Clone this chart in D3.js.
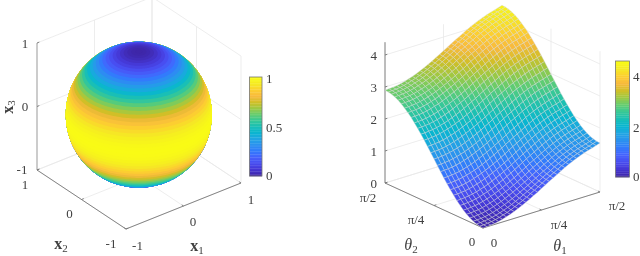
<!DOCTYPE html>
<html>
<head>
<meta charset="utf-8">
<script src="https://cdn.jsdelivr.net/npm/d3@7"></script>
<style>
  html, body { margin: 0; padding: 0; background: #fff; }
  svg { display: block; filter: blur(0.3px); }
  text { font-family: "Liberation Serif", serif; fill: #404040; font-size: 13px; }
</style>
</head>
<body>
<div id="chart"></div>
<script>
// parula colour stops
var parulaStops = ["#3e26a8","#4537d5","#484df0","#4563fd","#327bfc","#2b91ef","#20a5e3","#08b5d0",
                   "#19bfb6","#37c897","#64cd6f","#9dc943","#d1bf27","#f8ba3d","#fccf30","#f5e924","#f9fb15"];

// sphere: colour value per band, from the top pole down, bands of 3 degrees
var sphereBands = [0,.003,.011,.024,.043,.067,.095,.129,.165,.206,.25,.297,.345,.396,.448,.5,
                   .552,.604,.655,.703,.75,.794,.835,.871,.905,.933,.957,.976,.989,.997,1,
                   .997,.989,.976,.957,.933,.905,.871,.835,.794,.75,.703,.655,.604,.552,.5,
                   .448,.396,.345,.297,.25,.206,.165,.129,.095,.067,.043,.024,.011,.003];
var sphereTicks = [-1, 0, 1];
var sphereBarTicks = [0, 0.5, 1];

// surface: height along each theta
var heightTheta1 = [0,.004,.015,.03,.055,.085,.125,.165,.215,.27,.33,.39,.455,.525,.595,.67,
                    .745,.82,.89,.96,1.03,1.1,1.165,1.225,1.28,1.33,1.375,1.415,1.45,1.49,1.53];
var heightTheta2 = [0,.009,.032,.07,.125,.195,.275,.375,.48,.6,.725,.86,1,1.15,1.3,1.45,
                    1.6,1.75,1.9,2.04,2.175,2.3,2.42,2.525,2.62,2.705,2.775,2.83,2.87,2.89,2.9];
var surfaceHeightTicks = [0, 1, 2, 3, 4];
var surfaceBarTicks = [0, 2, 4];
var thetaTicks = [0, 0.5, 1];
var thetaLabels = ["0", "π/4", "π/2"];

var width = 640, height = 256;

var svg = d3.select("#chart").append("svg")
    .attr("width", width)
    .attr("height", height);

var parula = d3.scaleLinear()
    .domain(parulaStops.map(function(d, i) { return i / (parulaStops.length - 1); }))
    .range(parulaStops);

// a 3D box drawn with one linear scale per axis and screen direction
function makeBox(front, right, left, up, xDomain, yDomain, zDomain) {
    var xx = d3.scaleLinear().domain(xDomain).range([0, right[0] - front[0]]);
    var xy = d3.scaleLinear().domain(xDomain).range([0, right[1] - front[1]]);
    var yx = d3.scaleLinear().domain(yDomain).range([0, left[0] - front[0]]);
    var yy = d3.scaleLinear().domain(yDomain).range([0, left[1] - front[1]]);
    var zy = d3.scaleLinear().domain(zDomain).range([0, -up]);
    return function(a, b, c) {
        return [front[0] + xx(a) + yx(b), front[1] + xy(a) + yy(b) + zy(c)];
    };
}

function seg(g, p, q, color, w) {
    g.append("line")
        .attr("x1", p[0]).attr("y1", p[1])
        .attr("x2", q[0]).attr("y2", q[1])
        .attr("stroke", color)
        .attr("stroke-width", w);
}

// back walls, floor grid, axis lines and ticks
function drawBox(g, P, xd, yd, zd, xTicks, yTicks, zTicks, zAxisColor) {
    var grid = "#e8e8e8";
    xTicks.forEach(function(t) {
        seg(g, P(t, yd[1], zd[0]), P(t, yd[1], zd[1]), grid, 0.8);
        seg(g, P(t, yd[0], zd[0]), P(t, yd[1], zd[0]), grid, 0.8);
    });
    yTicks.forEach(function(t) {
        seg(g, P(xd[1], t, zd[0]), P(xd[1], t, zd[1]), grid, 0.8);
        seg(g, P(xd[0], t, zd[0]), P(xd[1], t, zd[0]), grid, 0.8);
    });
    zTicks.forEach(function(t) {
        seg(g, P(xd[0], yd[1], t), P(xd[1], yd[1], t), grid, 0.8);
        seg(g, P(xd[1], yd[1], t), P(xd[1], yd[0], t), grid, 0.8);
    });
    var axis = "#777";
    seg(g, P(xd[0], yd[1], zd[0]), P(xd[0], yd[0], zd[0]), axis, 0.9);
    seg(g, P(xd[0], yd[0], zd[0]), P(xd[1], yd[0], zd[0]), axis, 0.9);
    seg(g, P(xd[0], yd[1], zd[0]), P(xd[0], yd[1], zd[1]), zAxisColor, 0.9);
    var xTick = (xd[1] - xd[0]) * 0.02, yTick = (yd[1] - yd[0]) * 0.02;
    xTicks.forEach(function(t) { seg(g, P(t, yd[0], zd[0]), P(t, yd[0] + yTick, zd[0]), axis, 0.9); });
    yTicks.forEach(function(t) { seg(g, P(xd[0], t, zd[0]), P(xd[0] + xTick, t, zd[0]), axis, 0.9); });
    zTicks.forEach(function(t) { seg(g, P(xd[0], yd[1], t), P(xd[0] + xTick, yd[1], t), axis, 0.9); });
}

function label(x, y, str, anchor) {
    return svg.append("text")
        .attr("x", x).attr("y", y)
        .attr("text-anchor", anchor || "middle")
        .attr("dominant-baseline", "central")
        .text(str);
}

function vectorLabel(x, y, sub, rotate) {
    var t = svg.append("text")
        .attr("text-anchor", "middle")
        .attr("transform", "translate(" + x + "," + y + ")" + (rotate ? " rotate(-90)" : ""));
    t.append("tspan").style("font-weight", "bold").style("font-size", "16px").text("x");
    t.append("tspan").attr("dy", 2.5).style("font-size", "11px").text(sub);
}

function thetaLabel(x, y, sub) {
    var t = svg.append("text")
        .attr("x", x).attr("y", y)
        .attr("text-anchor", "middle");
    t.append("tspan").style("font-style", "italic").style("font-size", "16px").text("θ");
    t.append("tspan").attr("dy", 2.5).style("font-size", "11px").text(sub);
}

function colorbar(x, w, top, bottom, domain, ticks, labelX) {
    var y = d3.scaleLinear().domain(domain).range([bottom, top]);
    var steps = d3.range(64);
    svg.append("g").selectAll("rect")
        .data(steps)
        .enter()
        .append("rect")
        .attr("x", x)
        .attr("width", w)
        .attr("y", function(d) { return y(domain[1] * (d + 1) / 64); })
        .attr("height", (bottom - top) / 64 + 0.3)
        .attr("fill", function(d) { return parula(d / 63); });
    svg.append("rect")
        .attr("x", x).attr("y", top)
        .attr("width", w).attr("height", bottom - top)
        .attr("fill", "none")
        .attr("stroke", "#777")
        .attr("stroke-width", 0.8);
    ticks.forEach(function(t) {
        label(labelX, y(t) + (t === 0 ? -0.5 : 1), String(t), "start");
    });
}

// ---------- LEFT: SPHERE ----------
var sphereBox = makeBox([126, 229], [241, 183], [37, 170], 127, [-1, 1], [-1, 1], [-1, 1]);
var gLeft = svg.append("g");
drawBox(gLeft, sphereBox, [-1, 1], [-1, 1], [-1, 1], sphereTicks, sphereTicks, sphereTicks, "#999");

var projection = d3.geoOrthographic()
    .scale(73)
    .translate([138.8, 114.7])
    .rotate([0, -30, 0])
    .precision(0.5);
var geoPath = d3.geoPath(projection);
var bandWidth = 180 / sphereBands.length;

// painter order: whole sphere first, then smaller and smaller caps round the top pole
gLeft.append("path")
    .datum({ type: "Sphere" })
    .attr("d", geoPath)
    .attr("fill", parula(sphereBands[sphereBands.length - 1]));
for (var i = sphereBands.length - 2; i >= 0; i--) {
    gLeft.append("path")
        .datum(d3.geoCircle().center([0, 90]).radius(bandWidth * (i + 1)).precision(2)())
        .attr("d", geoPath)
        .attr("fill", parula(sphereBands[i]));
}

label(25, 43, "1");
label(25, 106.5, "0");
label(22, 169.5, "-1");
label(25, 184, "1");
label(69.5, 213, "0");
label(111, 243, "-1");
label(137.5, 245, "-1");
label(193, 221, "0");
label(251, 199, "1");
vectorLabel(12.5, 107, "3", true);
vectorLabel(61, 249, "2");
vectorLabel(197, 251, "1");
colorbar(249.5, 12.5, 77, 176, [0, 1], sphereBarTicks, 266);

// ---------- RIGHT: SURFACE ----------
var zTop = 4.4;
var surfaceBox = makeBox([483, 228], [600, 192], [385, 183], 32 * zTop, [0, 1], [0, 1], [0, zTop]);
var gRight = svg.append("g");
drawBox(gRight, surfaceBox, [0, 1], [0, 1], [0, zTop], thetaTicks, thetaTicks, surfaceHeightTicks, "#777");

var n = heightTheta1.length - 1;
var grid = [];
heightTheta1.forEach(function(a, i) {
    heightTheta2.forEach(function(b, j) {
        grid.push({ i: i, j: j, z: a + b });
    });
});
function zAt(i, j) { return heightTheta1[i] + heightTheta2[j]; }

var surfaceColor = d3.scaleLinear().domain([0, 4.55]).range([0, 1]);
var cells = grid.filter(function(d) { return d.i < n && d.j < n; });
// back to front
cells.sort(function(a, b) { return (b.i + b.j) - (a.i + a.j); });

var cellLine = d3.line();
gRight.selectAll("path.cell")
    .data(cells)
    .enter()
    .append("path")
    .attr("class", "cell")
    .attr("d", function(d) {
        var corners = [[d.i, d.j], [d.i + 1, d.j], [d.i + 1, d.j + 1], [d.i, d.j + 1]];
        return cellLine(corners.map(function(c) {
            return surfaceBox(c[0] / n, c[1] / n, zAt(c[0], c[1]));
        })) + "Z";
    })
    .attr("fill", function(d) {
        return parula(surfaceColor((zAt(d.i, d.j) + zAt(d.i + 1, d.j + 1)) / 2));
    })
    .attr("stroke", "#d8d8d8")
    .attr("stroke-width", 0.5)
    .attr("stroke-opacity", 0.8);

surfaceHeightTicks.forEach(function(t) {
    label(377, surfaceBox(0, 1, t)[1] + 0.5, String(t), "end");
});
label(368, 197, thetaLabels[2]);
label(416, 219, thetaLabels[1]);
label(472, 241, thetaLabels[0]);
label(494, 242, thetaLabels[0]);
label(559, 224, thetaLabels[1]);
label(617, 205, thetaLabels[2]);
thetaLabel(411, 250, "2");
thetaLabel(560, 251, "1");
colorbar(615.5, 14, 61, 177, [0, 4.55], surfaceBarTicks, 633);
</script>
</body>
</html>
